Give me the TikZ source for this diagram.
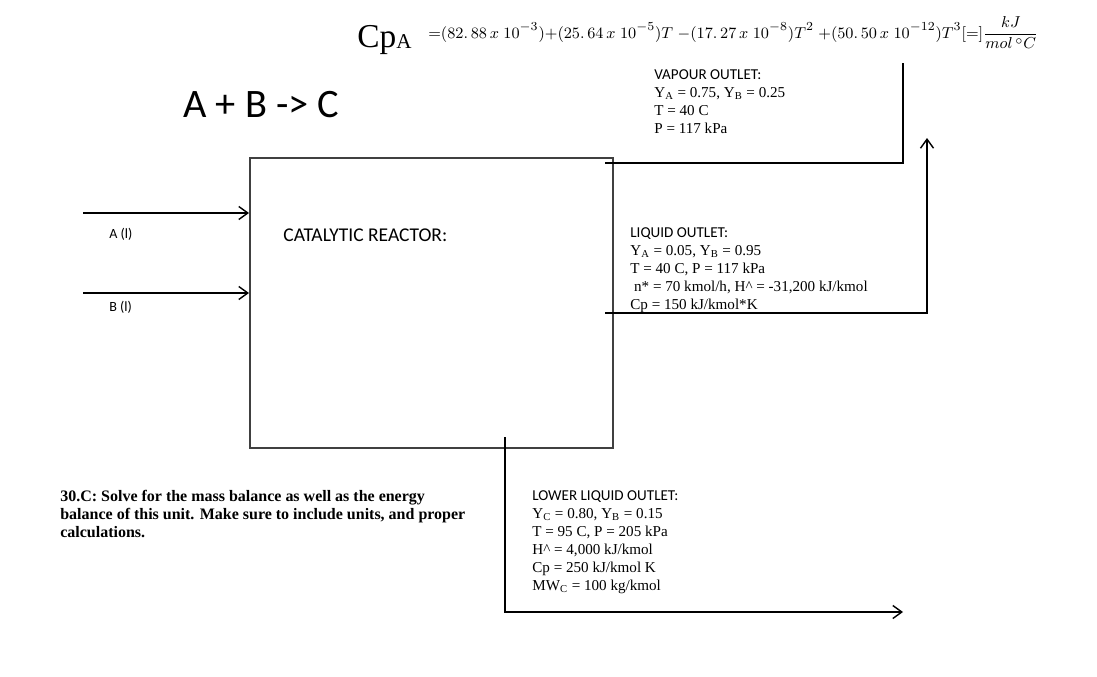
\documentclass[tikz,border=0pt]{standalone}
\usepackage{fontspec}
\setmainfont{Liberation Serif}
\newfontfamily\calib{Carlito}
\usetikzlibrary{arrows.meta}
\tikzset{
  unit/.style={draw=black!75, line width=1.2pt, minimum width=7.26cm, minimum height=5.8cm, inner sep=0pt},
  arr/.style={-{Straight Barb[length=1.8mm, width=2.6mm]}, line width=0.8pt},
  pipe/.style={line width=0.8pt},
  info/.style={anchor=north west, align=left, inner sep=0pt, font=\fontsize{8.6}{10.3}\selectfont},
  tag/.style={anchor=west, inner sep=0pt, font=\calib\fontsize{8}{9.6}\selectfont},
}
\begin{document}
\begin{tikzpicture}[x=0.02cm, y=-0.02cm]
    \useasboundingbox (0,0) rectangle (1097,676);
    \node[unit] (reactor) at (431.5,303) {};
    \node[tag, font=\calib\fontsize{11.1}{13}\selectfont] (cat) at (283,235) {CATALYTIC REACTOR:};
    \node[tag, font=\calib\fontsize{23}{27}\selectfont] (rxn) at (183,105) {A + B -> C};
    \node[anchor=base west, inner sep=0pt] (cp) at (357,47)
      {\fontsize{19}{22}\selectfont Cp\raisebox{-1pt}{\fontsize{12}{14}\selectfont A}};
    \node[anchor=base west, inner sep=0pt] (cpeq) at (428,38)
      {\fontsize{9.5}{11}\selectfont $\displaystyle {=}(82.\,88\,x\;10^{-3}){+}(25.\,64\,x\;10^{-5})T\;{-}(17.\,27\,x\;10^{-8})T^2\;{+}(50.\,50\,x\;10^{-12})T^3[{=}]\frac{kJ}{mol\,^{\circ}C}$};
    \coordinate (ain) at (83,213);
    \coordinate (bin) at (83,293);
    \node[tag] (alab) at (109,234) {A (l)};
    \node[tag] (blab) at (109,307) {B (l)};
    \node[info] (vap) at (654,69) {{\calib VAPOUR OUTLET:}\\
      Y\textsubscript{A} = 0.75, Y\textsubscript{B} = 0.25\\
      T = 40 C\\
      P = 117 kPa};
    \node[info] (liq) at (630,227) {{\calib LIQUID OUTLET:}\\
      Y\textsubscript{A} = 0.05, Y\textsubscript{B} = 0.95\\
      T = 40 C, P = 117 kPa\\
      \ n* = 70 kmol/h, H\textasciicircum{} = -31,200 kJ/kmol\\
      Cp = 150 kJ/kmol*K};
    \node[info] (low) at (532,490) {{\calib LOWER LIQUID OUTLET:}\\
      Y\textsubscript{C} = 0.80, Y\textsubscript{B} = 0.15\\
      T = 95 C, P = 205 kPa\\
      H\textasciicircum{} = 4,000 kJ/kmol\\
      Cp = 250 kJ/kmol K\\
      MW\textsubscript{C} = 100 kg/kmol};
    \node[info, font=\bfseries\fontsize{9.1}{10.2}\selectfont] (task) at (60,490)
      {30.C: Solve for the mass balance as well as the energy\\
      balance of this unit. Make sure to include units, and proper\\
      calculations.};
    \coordinate (vout) at (605,163);
    \coordinate (vtop) at (903,63);
    \coordinate (lout) at (605,313);
    \coordinate (lup) at (927,138);
    \coordinate (bout) at (505,437);
    \coordinate (bend) at (903,612);
    \draw[arr] (ain) -- (ain -| reactor.west);
    \draw[arr] (bin) -- (bin -| reactor.west);
    \draw[pipe] (vout) -| (vtop);
    \draw[arr] (lout) -| (lup);
    \draw[arr] (bout) |- (bend);
\end{tikzpicture}
\end{document}
